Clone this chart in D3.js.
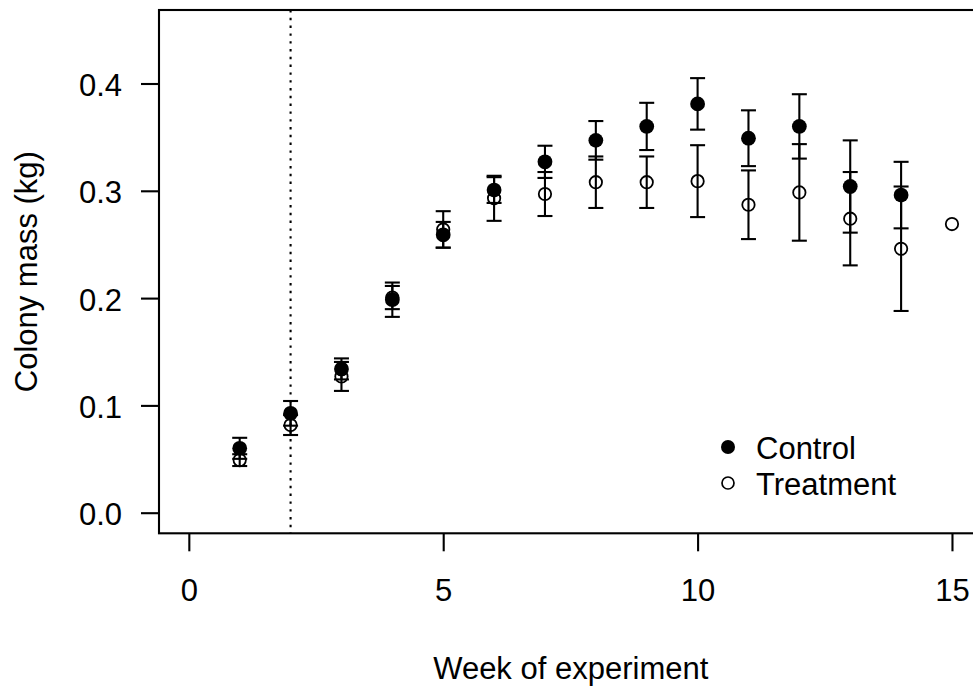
<!DOCTYPE html>
<html>
<head>
<meta charset="utf-8">
<script src="https://cdn.jsdelivr.net/npm/d3@7"></script>
<style>
  html, body { margin: 0; padding: 0; background: #fff; }
  svg { display: block; }
  text { font-family: "Liberation Sans", Arial, sans-serif; fill: #000; }
</style>
</head>
<body>
<svg id="chart" width="973" height="691"></svg>
<script>
// Weekly colony mass (kg), mean and standard error per group
const controlWeeks = [1, 2, 3, 4, 5, 6, 7, 8, 9, 10, 11, 12, 13, 14];
const controlMean  = [0.060, 0.0926, 0.134, 0.1985, 0.259, 0.3007, 0.327, 0.347, 0.360, 0.381, 0.349, 0.360, 0.304, 0.296];
const controlSE    = [0.0098, 0.0115, 0.0098, 0.016, 0.012, 0.012, 0.015, 0.018, 0.022, 0.024, 0.026, 0.030, 0.043, 0.031];

const treatmentWeeks = [1, 2, 3, 4, 5, 6, 7, 8, 9, 10, 11, 12, 13, 14, 15];
const treatmentMean  = [0.049, 0.0817, 0.127, 0.2005, 0.264, 0.293, 0.297, 0.308, 0.308, 0.309, 0.287, 0.2985, 0.274, 0.246, 0.269];
const treatmentSE    = [0.0055, 0.0093, 0.0135, 0.0108, 0.017, 0.021, 0.0205, 0.024, 0.024, 0.0335, 0.032, 0.045, 0.0435, 0.058, null];

const xTicks = [0, 5, 10, 15];
const yTicks = [0.0, 0.1, 0.2, 0.3, 0.4];
const markerWeek = 2;
const legendLabels = ["Control", "Treatment"];

const svg = d3.select("#chart");
const lw = 2.1;
const fontSize = 31;

const x = d3.scaleLinear().domain([-0.6, 15.6]).range([158.3, 982.5]);
const y = d3.scaleLinear().domain([-0.0192, 0.4685]).range([533.3, 10]);

const plotLeft = 159, plotRight = 982.5, plotTop = 10, plotBottom = 533.3;

// vertical reference line at the start of the manipulation
svg.append("line")
  .attr("x1", x(markerWeek)).attr("x2", x(markerWeek))
  .attr("y1", plotTop).attr("y2", plotBottom)
  .attr("stroke", "#000").attr("stroke-width", lw)
  .attr("stroke-dasharray", "2.4,5.4");

// plot frame
svg.append("rect")
  .attr("x", plotLeft).attr("y", plotTop)
  .attr("width", plotRight - plotLeft).attr("height", plotBottom - plotTop)
  .attr("fill", "none").attr("stroke", "#000").attr("stroke-width", lw);

// x axis
const xAxis = d3.axisBottom(x).tickValues(xTicks).tickSize(18).tickPadding(18)
  .tickFormat(d3.format("d"));
const gx = svg.append("g").attr("transform", `translate(0,${plotBottom})`).call(xAxis);
gx.select(".domain").remove();
gx.selectAll(".tick line").attr("stroke", "#000").attr("stroke-width", lw);
gx.selectAll(".tick text")
  .attr("font-size", fontSize).attr("font-family", null)
  .attr("dy", null).attr("y", 68);

// y axis
const yAxis = d3.axisLeft(y).tickValues(yTicks).tickSize(18).tickPadding(18)
  .tickFormat(d3.format(".1f"));
const gy = svg.append("g").attr("transform", `translate(${plotLeft},0)`).call(yAxis);
gy.select(".domain").remove();
gy.selectAll(".tick line").attr("stroke", "#000").attr("stroke-width", lw);
gy.selectAll(".tick text")
  .attr("font-size", fontSize).attr("font-family", null)
  .attr("dy", null).attr("y", 12).attr("x", -37);

// axis titles
svg.append("text")
  .attr("x", (plotLeft + plotRight) / 2).attr("y", 679)
  .attr("text-anchor", "middle").attr("font-size", fontSize)
  .text("Week of experiment");

svg.append("text")
  .attr("transform", `translate(37,${(plotTop + plotBottom) / 2}) rotate(-90)`)
  .attr("text-anchor", "middle").attr("font-size", fontSize)
  .text("Colony mass (kg)");

// error bars with end caps
function errorBars(weeks, means, ses) {
  const g = svg.append("g").attr("stroke", "#000").attr("stroke-width", lw);
  weeks.forEach((w, i) => {
    const se = ses[i];
    if (se == null) return;
    const cx = x(w), y0 = y(means[i] - se), y1 = y(means[i] + se);
    g.append("line").attr("x1", cx).attr("x2", cx).attr("y1", y0).attr("y2", y1);
    g.append("line").attr("x1", cx - 7.5).attr("x2", cx + 7.5).attr("y1", y0).attr("y2", y0);
    g.append("line").attr("x1", cx - 7.5).attr("x2", cx + 7.5).attr("y1", y1).attr("y2", y1);
  });
}

// points
svg.append("g").selectAll("circle")
  .data(controlWeeks.map((w, i) => [w, controlMean[i]]))
  .join("circle")
  .attr("cx", d => x(d[0])).attr("cy", d => y(d[1]))
  .attr("r", 7.4).attr("fill", "#000");

svg.append("g").selectAll("circle")
  .data(treatmentWeeks.map((w, i) => [w, treatmentMean[i]]))
  .join("circle")
  .attr("cx", d => x(d[0])).attr("cy", d => y(d[1]))
  .attr("r", 6.2).attr("fill", "none").attr("stroke", "#000").attr("stroke-width", 1.8);

errorBars(controlWeeks, controlMean, controlSE);
errorBars(treatmentWeeks, treatmentMean, treatmentSE);

// legend
const legend = svg.append("g");
legendLabels.forEach((lab, i) => {
  const ly = 447 + i * 36;
  if (i === 0) {
    legend.append("circle").attr("cx", 728).attr("cy", ly).attr("r", 7).attr("fill", "#000");
  } else {
    legend.append("circle").attr("cx", 728).attr("cy", ly).attr("r", 6)
      .attr("fill", "none").attr("stroke", "#000").attr("stroke-width", 1.7);
  }
  legend.append("text").attr("x", 756).attr("y", ly + 11.5)
    .attr("font-size", fontSize).text(lab);
});
</script>
</body>
</html>
